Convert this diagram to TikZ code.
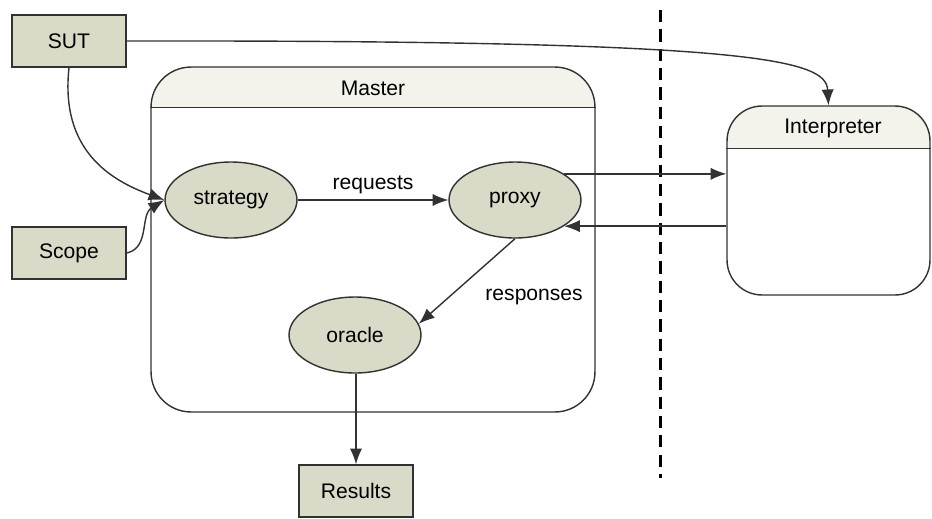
\documentclass[tikz,border=0pt]{standalone}
\usepackage{fontspec}
\setmainfont{Liberation Sans}
\usepackage{xcolor}
\usetikzlibrary{shapes,positioning,calc,arrows.meta}

\definecolor{boxfill}{RGB}{218,218,200}
\definecolor{headfill}{RGB}{243,243,236}
\definecolor{linecol}{RGB}{50,50,50}

\tikzset{
    block/.style={draw=linecol, line width=0.8pt, fill=boxfill, minimum width=2.28cm, minimum height=1.04cm, inner sep=0pt},
    state/.style={ellipse, draw=linecol, line width=0.8pt, fill=boxfill, minimum width=2.64cm, minimum height=1.52cm, inner sep=0pt},
    container/.style={draw=linecol, line width=0.8pt, fill=white, rounded corners=#1, inner sep=0pt},
    flow/.style={draw=linecol, line width=0.8pt, -{Latex[length=9pt,width=7pt]}}
}

\begin{document}
\begin{tikzpicture}[x=0.02cm, y=-0.02cm, font=\fontsize{12}{14}\selectfont]
    \useasboundingbox (0,0) rectangle (932,518);

    % containers with a header strip
    \node [container=0.8cm, minimum width=8.88cm, minimum height=6.9cm,
        path picture={\fill[headfill, sharp corners] (path picture bounding box.north west) rectangle ([yshift=-0.82cm]path picture bounding box.north east);}]
        (master) at (373,239.5) {};
    \draw [linecol, line width=0.8pt] ([yshift=-0.82cm]master.north west) -- ([yshift=-0.82cm]master.north east);
    \node at (373,88) {Master};

    \node [container=0.7cm, minimum width=4.06cm, minimum height=3.78cm,
        path picture={\fill[headfill, sharp corners] (path picture bounding box.north west) rectangle ([yshift=-0.86cm]path picture bounding box.north east);}]
        (interp) at (828.5,200.5) {};
    \draw [linecol, line width=0.8pt] ([yshift=-0.86cm]interp.north west) -- ([yshift=-0.86cm]interp.north east);
    \node at (833,128) {Interpreter};

    % boundary
    \draw [black, line width=1.7pt, dash pattern=on 7pt off 4pt] (660,10) -- (660,478);

    \node [block] (sut) at (69,41) {SUT};
    \node [block] (scope) at (69,253) {Scope};
    \node [block] (results) at (356,491) {Results};

    \node [state] (strategy) at (231,200) {strategy};
    \node [state] (proxy) at (515,200) {proxy};
    \node [state] (oracle) at (355,335) {oracle};

    % inputs
    \draw [flow] (sut.south) .. controls (60,150) and (110,180) .. (strategy.west);
    \draw [flow] (scope.east) .. controls (150,248) and (140,215) .. (strategy.west);
    \draw [flow] (sut.east) .. controls (760,40) and (826,60) .. (interp.north);

    % master internals
    \draw [flow] (strategy) -- node[above] {requests} (proxy);
    \draw [flow] (proxy.-90) -- node[anchor=west, pos=0.5, xshift=0.24cm, yshift=-0.32cm] {responses} (oracle.10);
    \draw [flow] (oracle.south -| results.north) -- (results.north);

    % to and from the interpreter
    \draw [flow] (proxy.28) -- (proxy.28 -| interp.west);
    \draw [flow] (interp.west |- proxy.-28) -- (proxy.-28);
\end{tikzpicture}
\end{document}
